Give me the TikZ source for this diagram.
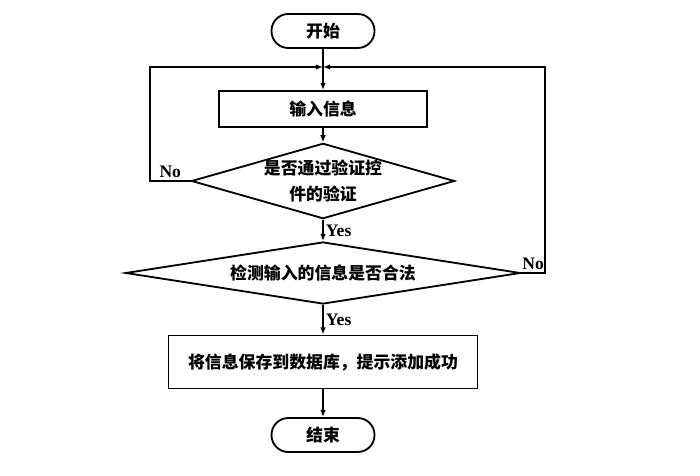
\documentclass[tikz,border=0pt]{standalone}
\usepackage{fontspec}
\setmainfont{Noto Sans CJK SC}
\newfontfamily\lblfont{Liberation Serif}
\usetikzlibrary{arrows.meta,positioning,shapes.geometric,calc}
\tikzset{term/.style={draw,rounded corners=0.42cm,minimum width=2.575cm,minimum height=0.85cm,font=\fontsize{12}{14}\selectfont\bfseries,line width=1.3pt},
proc/.style={draw,minimum height=0.9cm,font=\fontsize{12}{14}\selectfont\bfseries,line width=1.3pt},
cond/.style={diamond,draw,inner sep=0pt,align=center,font=\fontsize{12}{18}\selectfont\bfseries,line width=1.3pt},
arr/.style={-{Latex[length=1.8mm,width=1.4mm]},line width=1.2pt},
lbl/.style={font=\lblfont\fontsize{12.5}{13}\selectfont\bfseries,inner sep=1.5pt}}
\begin{document}
\begin{tikzpicture}[x=1cm,y=1cm]
\useasboundingbox (0,0) rectangle (17.5,-11.9);
\node[term] (start) at (8.075,-0.775){开始};
\coordinate (jn) at (8.075,-1.675);\coordinate (cl) at (3.75,-1.675);\coordinate (cr) at (13.625,-1.675);
\node[proc,minimum width=5.2cm] (input) at (8.075,-2.725){输入信息};
\node[cond,aspect=3.49,minimum width=6.55cm,minimum height=1.875cm] (chk) at (8.075,-4.525){是否通过验证控\\件的验证};
\node[cond,aspect=6.37,minimum width=9.875cm,minimum height=1.55cm] (legal) at (8.075,-6.825){检测输入的信息是否合法};
\node[proc,minimum width=7.725cm,minimum height=1.325cm] (save) at (8.075,-9.05){将信息保存到数据库，提示添加成功};
\node[term] (stop) at (8.075,-10.875){结束};
\draw[arr](start)--(input);\draw[arr](input)--(chk);
\draw[arr](chk)--node[lbl,right]{Yes}(legal);\draw[arr](legal)--node[lbl,right]{Yes}(save);
\draw[arr](save)--(stop);
\draw[arr](chk.west)-|node[lbl,pos=0.25,above]{No}(cl)--(jn);
\draw[arr](legal.east)-|node[lbl,pos=0.25,above]{No}(cr)--(jn);
\end{tikzpicture}
\end{document}
